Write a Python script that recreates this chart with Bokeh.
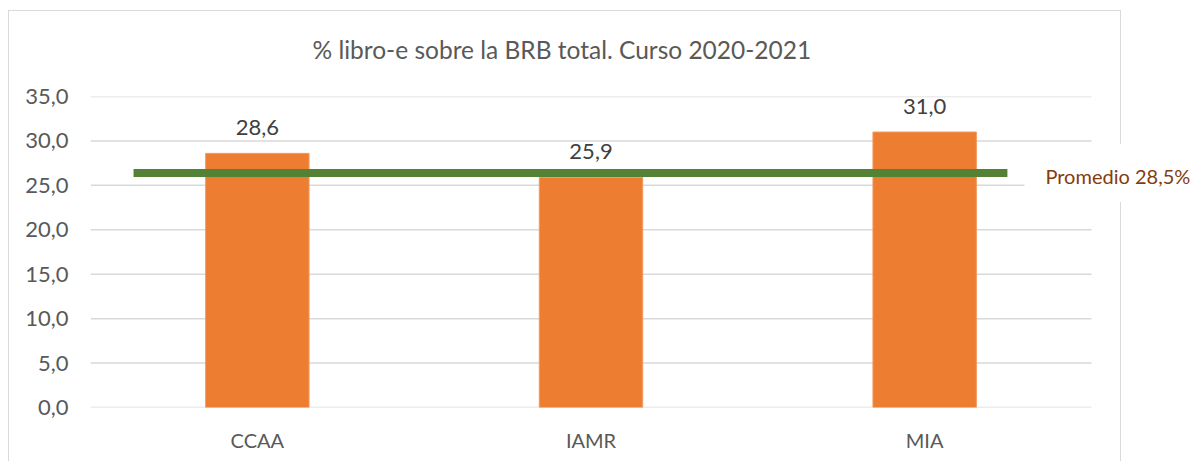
from bokeh.plotting import figure
from bokeh.models import (ColumnDataSource, Range1d, FixedTicker, Label,
                          InlineStyleSheet)
from bokeh.embed import file_html
from bokeh.resources import INLINE
from bokeh.core.properties import value

# ---- data ----
categories = ["CCAA", "IAMR", "MIA"]
values = [28.6, 25.9, 31.0]
value_labels = ["28,6", "25,9", "31,0"]
average_value = 26.4
average_label = "Promedio 28,5%"
y_ticks = [0, 5, 10, 15, 20, 25, 30, 35]
y_tick_labels = ["0,0", "5,0", "10,0", "15,0", "20,0", "25,0", "30,0", "35,0"]
title_text = "% libro-e  sobre la BRB total. Curso 2020-2021"

FONT = "Lato"

# category slots on a numeric axis (slot i centred at i + 0.5)
n = len(categories)
x_pos = [i + 0.5 for i in range(n)]
PLOT_W = 1001          # pixel width of the category area
FRAME_W = 1100         # frame also spans the right-hand label area
x_end = n * FRAME_W / PLOT_W

p = figure(x_range=Range1d(0, x_end), y_range=Range1d(0, 35),
           width=1190, height=461, output_backend="svg",
           toolbar_location=None,
           min_border_left=90, min_border_right=0,
           min_border_top=96, min_border_bottom=54)
p.outline_line_color = None
p.background_fill_color = None
p.border_fill_color = None

# outer chart border (behind the transparent canvas)
p.stylesheets = [InlineStyleSheet(css="""
:host { position: relative; }
:host::before {
  content: ""; position: absolute; left: 8px; top: 10px;
  width: 1113px; height: 451px; box-sizing: border-box;
  border: 1.5px solid #D9D9D9; border-bottom: none;
  pointer-events: none;
}
""")]

# title
p.title.text = title_text
p.title.align = "left"
p.title.text_font = FONT
p.title.text_font_size = "24.5px"
p.title.text_font_style = "normal"
p.title.text_color = "#595959"
p.title.offset = 222
p.title.standoff = 65

# horizontal gridlines limited to the category area
p.segment(x0=[0] * len(y_ticks), x1=[n] * len(y_ticks), y0=y_ticks, y1=y_ticks,
          line_color="#D9D9D9", line_width=1.5)

# bars
src = ColumnDataSource(dict(x=x_pos, val=values, lab=value_labels))
p.vbar(x="x", top="val", width=0.31, source=src,
       fill_color="#ED7D31", line_color="#F29B61", line_width=1)

# value labels
p.text(x="x", y="val", text="lab", source=src,
       text_align="center", text_baseline="alphabetic", y_offset=-26,
       text_font=value(FONT), text_font_size="22px", text_color="#404040")

# average line
line_start, line_end = 0.129, 2.748
p.segment(x0=[line_start], x1=[line_end], y0=[average_value], y1=[average_value],
          line_color="#548235", line_width=8)

avg_lab = Label(x=2.799, y=average_value, x_units="data", y_units="data",
                text=average_label, text_align="left", text_baseline="middle",
                text_font=FONT, text_font_size="20px", text_color="#843C0C",
                background_fill_color="white",
                padding=dict(left=21, right=1, top=20, bottom=14))
p.add_layout(avg_lab)

# axes
p.xaxis.ticker = FixedTicker(ticks=x_pos)
p.xaxis.major_label_overrides = {x: c for x, c in zip(x_pos, categories)}
p.yaxis.ticker = FixedTicker(ticks=y_ticks)
p.yaxis.major_label_overrides = {t: l for t, l in zip(y_ticks, y_tick_labels)}
for ax in (p.xaxis, p.yaxis):
    ax.axis_line_color = None
    ax.major_tick_line_color = None
    ax.minor_tick_line_color = None
    ax.major_tick_in = 0
    ax.major_tick_out = 0
    ax.major_label_text_font = FONT
    ax.major_label_text_color = "#595959"
p.yaxis.major_label_text_font_size = "22px"
p.xaxis.major_label_text_font_size = "20px"
p.yaxis.major_label_standoff = 22
p.xaxis.major_label_standoff = 20

p.xgrid.grid_line_color = None
p.ygrid.grid_line_color = None

open("out.html", "w").write(file_html(p, INLINE))
